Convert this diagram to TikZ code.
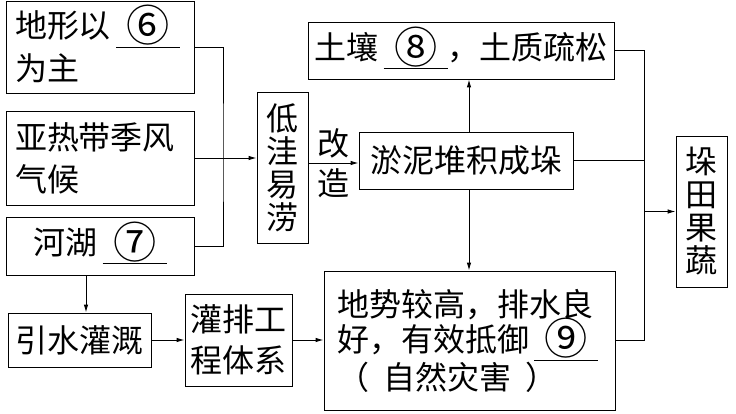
\documentclass[tikz,border=0pt]{standalone}
\usepackage{fontspec}
\setmainfont{Noto Sans CJK SC}
\usetikzlibrary{arrows.meta}
\newcommand{\bignum}[1]{\smash{\raisebox{-0.12em}{\scalebox{1.35}{#1}}}}
\newcommand{\blankfill}[1]{\underline{\makebox[2em][c]{\rule[-0.24em]{0pt}{0.1em}\bignum{#1}}}}
\begin{document}
\begin{tikzpicture}[x=1pt,y=-1pt,
  box/.style={draw, line width=0.9pt, inner ysep=0pt, align=left},
  vbox/.style={draw, line width=0.9pt, inner sep=0pt, align=center, font=\fontsize{32}{33}\selectfont},
  conn/.style={line width=0.9pt},
  arr/.style={line width=0.9pt, -{Latex[length=8pt,width=4.5pt]}}]
\useasboundingbox (0,0) rectangle (736,414);
% left column
\node[box, minimum width=188pt, minimum height=92pt, text width=170pt, inner xsep=9pt,
      font=\fontsize{32}{43}\selectfont] (A) at (100,47) {地形以\,\blankfill{⑥}\\为主};
\node[box, minimum width=188pt, minimum height=94pt, text width=170pt, inner xsep=9pt,
      font=\fontsize{32}{42}\selectfont] (B) at (100,158) {亚热带季风\\气候};
\node[box, minimum width=188pt, minimum height=58pt, inner xsep=0pt, align=center,
      font=\fontsize{32}{40}\selectfont] (C) at (100,246) {河湖\,\blankfill{⑦}};
\node[box, minimum width=143pt, minimum height=54pt, inner xsep=0pt, align=center,
      font=\fontsize{32}{40}\selectfont] (W) at (79.5,340) {引水灌溉};
\node[box, minimum width=107pt, minimum height=92pt, inner xsep=0pt, align=center,
      font=\fontsize{32}{41}\selectfont] (G) at (238.5,340) {灌排工\\程体系};
% middle
\node[vbox, minimum width=51pt, minimum height=151pt] (L) at (282.5,167.5) {低\\洼\\易\\涝};
\node[box, minimum width=214pt, minimum height=57pt, inner xsep=0pt, align=center,
      font=\fontsize{32}{40}\selectfont] (Y) at (466,160.5) {淤泥堆积成垛};
\node[box, minimum width=306pt, minimum height=57pt, inner xsep=0pt, align=center,
      font=\fontsize{32}{40}\selectfont] (S) at (461,50.5) {土壤\,\blankfill{⑧}，土质疏松};
\node[box, minimum width=291pt, minimum height=139pt, text width=265pt, inner xsep=13pt,
      font=\fontsize{32}{35}\selectfont] (D) at (469.5,340.5)
      {地势较高，排水良\\好，有效抵御\,\blankfill{⑨}\\（\hspace{0.45em}自然灾害\hspace{0.45em}）};
% right
\node[vbox, minimum width=51pt, minimum height=151pt] (F) at (701.5,211.5) {垛\\田\\果\\蔬};
% label
\node[inner sep=0pt, align=center, font=\fontsize{32}{40}\selectfont] (lbl) at (333,163) {改\\造};
% connectors
\coordinate (j1) at (223,158);
\draw[conn] (A.east) -| (j1) |- (C.east);
\draw[arr] (B.east) -- (B.east -| L.west);
\draw[arr] (L.east |- 0,163) -- (Y.west |- 0,163);
\draw[arr] (Y.north -| 469,0) -- (S.south -| 469,0);
\draw[arr] (Y.south -| 469,0) -- (D.north -| 469,0);
\coordinate (b) at (644,211.5);
\draw[conn] (S.east) -| (b);
\draw[conn] (D.east) -| (b);
\draw[conn] (Y.east) -- (Y.east -| b);
\draw[arr] (b) -- (F.west);
\draw[arr] (C.south -| 86,0) -- (W.north -| 86,0);
\draw[arr] (W.east) -- (G.west);
\draw[arr] (G.east) -- (G.east -| D.west);
\end{tikzpicture}
\end{document}
